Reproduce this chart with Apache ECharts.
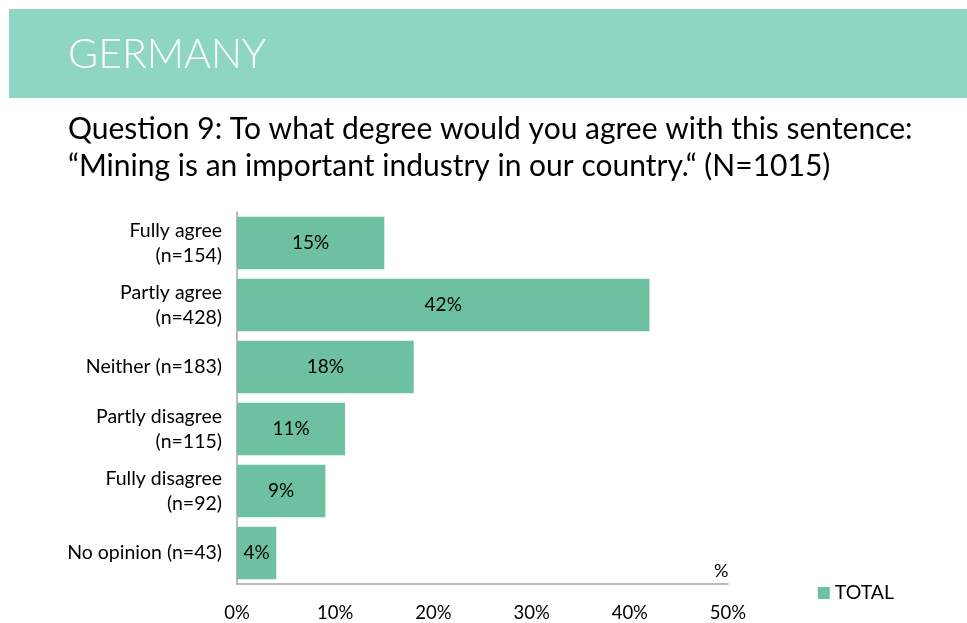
<!DOCTYPE html>
<html>
<head>
<meta charset="utf-8">
<script src="https://cdn.jsdelivr.net/npm/echarts@6/dist/echarts.min.js"></script>
<style>
  html, body { margin: 0; padding: 0; background: #ffffff; }
  #chart { width: 967px; height: 623px; }
</style>
</head>
<body>
<div id="chart"></div>
<script>
// Survey answers, top to bottom
const categories = [
  'Fully agree\n(n=154)',
  'Partly agree\n(n=428)',
  'Neither (n=183)',
  'Partly disagree\n(n=115)',
  'Fully disagree\n(n=92)',
  'No opinion (n=43)'
];
const totalShare = [15, 42, 18, 11, 9, 4];
const xTicks = [0, 10, 20, 30, 40, 50];

const FONT = 'Lato, "Open Sans", sans-serif';
const chart = echarts.init(document.getElementById('chart'));

chart.setOption({
  animation: false,
  textStyle: { fontFamily: FONT },
  graphic: [
    { type: 'rect', left: 9, top: 9, shape: { width: 958, height: 89 }, style: { fill: '#8ed6c2' }, silent: true },
    { type: 'text', left: 68, top: 34, style: { text: 'GERMANY', fill: '#ffffff', font: '300 41px ' + FONT } },
    { type: 'text', left: 68, top: 111, style: {
        text: 'Question 9: To what degree would you agree with this sentence:\n\u201CMining is an important industry in our country.\u201C (N=1015)',
        fill: '#000000', font: '30px ' + FONT, lineHeight: 37 } }
  ],
  legend: {
    data: ['TOTAL'],
    right: 68, top: 578,
    itemWidth: 12, itemHeight: 12, icon: 'rect', itemGap: 6,
    textStyle: { fontSize: 19.5, color: '#000', fontFamily: FONT }
  },
  grid: { left: 237, right: 239, top: 212, bottom: 38, containLabel: false },
  xAxis: {
    type: 'value', min: 0, max: 50, interval: 10,
    name: '%', nameLocation: 'end', nameGap: -14,
    nameTextStyle: { fontSize: 18, color: '#000', verticalAlign: 'bottom', padding: [0, 0, 4, 0] },
    axisLine: { show: true, lineStyle: { color: '#a6a6a6', width: 1.5 } },
    axisTick: { show: false },
    splitLine: { show: false },
    axisLabel: { formatter: v => xTicks.includes(v) ? v + '%' : '', fontSize: 18.5, color: '#000', margin: 20, fontFamily: FONT }
  },
  yAxis: {
    type: 'category', data: categories, inverse: true,
    axisLine: { show: true, lineStyle: { color: '#a6a6a6', width: 1.5 } },
    axisTick: { show: false },
    axisLabel: { fontSize: 19.5, color: '#000', margin: 15, lineHeight: 25, align: 'right', fontFamily: FONT }
  },
  series: [{
    name: 'TOTAL', type: 'bar', data: totalShare,
    barCategoryGap: '15%',
    itemStyle: { color: '#6dc1a1' },
    label: { show: true, position: 'inside', formatter: p => p.value + '%', fontSize: 19, color: '#000', fontFamily: FONT }
  }]
});
</script>
</body>
</html>
